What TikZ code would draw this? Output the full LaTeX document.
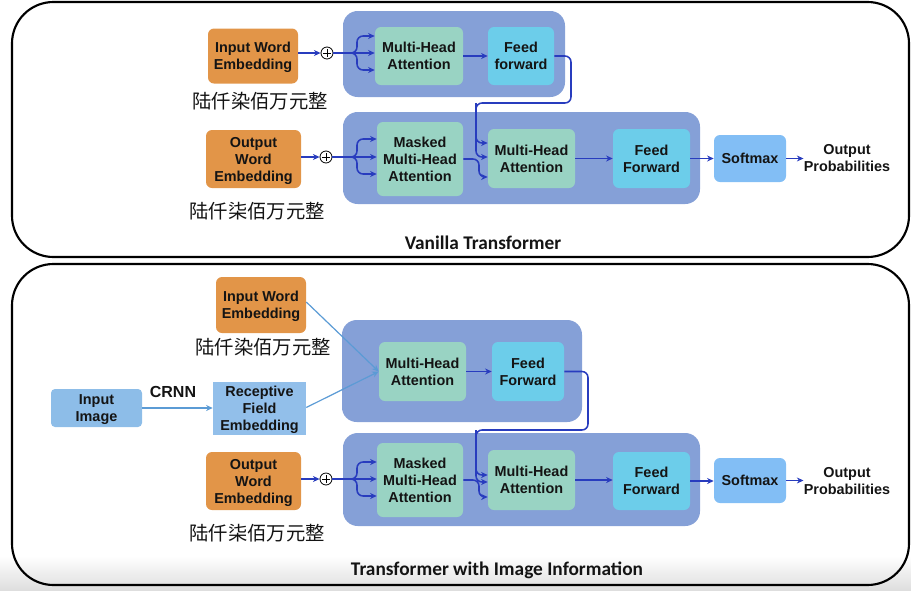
\documentclass[tikz,border=0pt]{standalone}
\usepackage{fontspec}
\setmainfont{Liberation Sans}
\newfontfamily\cjk{Noto Sans CJK SC}
\newfontfamily\titlefam{Carlito}
\usetikzlibrary{arrows.meta,calc,fit,shapes.geometric}

\definecolor{orng}{HTML}{E29548}
\definecolor{grp}{HTML}{85A0D7}
\definecolor{attn}{HTML}{99D3C3}
\definecolor{ffc}{HTML}{6CCDEA}
\definecolor{smx}{HTML}{82BEF5}
\definecolor{imgc}{HTML}{8DBDE8}
\definecolor{rfec}{HTML}{92BFEA}
\definecolor{darr}{HTML}{283CBE}
\definecolor{larr}{HTML}{5B9BD5}
\definecolor{txt}{HTML}{141414}

\newcommand\boxfont{\fontsize{10.8}{12.75}\selectfont\bfseries}
\newcommand\zhfont{\cjk\fontsize{14.5}{16}\selectfont}
\newcommand\headfont{\titlefam\fontsize{14.5}{16}\selectfont\bfseries}

\begin{document}
\begin{tikzpicture}[x=0.75pt,y=-0.75pt,
  blk/.style={rounded corners=4.5pt, inner sep=0pt, align=center, font=\boxfont, text=txt, text depth=0pt},
  sz/.style 2 args={minimum width=#1*0.75pt, minimum height=#2*0.75pt},
  group/.style={fill=grp, rounded corners=11pt, inner sep=0pt},
  frame/.style={draw=black, line width=1.6pt, rounded corners=31pt},
  plusc/.style={circle, draw=black, fill=white, line width=0.6pt, minimum size=9pt, inner sep=0pt,
    path picture={\draw[line width=0.6pt]
      ([xshift=-2.8pt]path picture bounding box.center) -- ([xshift=2.8pt]path picture bounding box.center)
      ([yshift=-2.8pt]path picture bounding box.center) -- ([yshift=2.8pt]path picture bounding box.center);}},
  arr/.style={draw=darr, line width=1.15pt, rounded corners=4.5pt, -{Stealth[length=5pt,width=4.5pt]}},
  lightarr/.style={draw=larr, line width=0.9pt, -{Stealth[length=5pt,width=4.5pt]}},
  zh/.style={font=\zhfont, text=txt, inner sep=0pt},
  head/.style={font=\headfont, text=txt, inner sep=0pt},
  plain/.style={font=\boxfont, text=txt, align=center, inner sep=0pt}
]
\useasboundingbox (0,0) rectangle (911,590);
\shade[top color=white, bottom color=black!13] (0,556) rectangle (911,590);

% ---------- outer frames ----------
\draw[frame] (12,2) rectangle (909,257);
\draw[frame] (12,264) rectangle (909,585);

% ================= vanilla transformer =================
\node[group, fit={(343,11) (565,97)}] (enc1) {};
\node[group, fit={(343,112) (700,204)}] (dec1) {};

\node[blk, fill=orng, sz={90}{55}] (iwe1) at (253,56) {Input Word\\Embedding};
\node[zh] (zh1) at (260,101) {陆仟染佰万元整};
\node[plusc] (p1) at (327,53) {};
\node[blk, fill=attn, sz={88}{58}] (mha1) at (419,56) {Multi-Head\\Attention};
\node[blk, fill=ffc, sz={66}{58}] (ff1) at (521,56) {Feed\\forward};

\node[blk, fill=orng, sz={95}{58}] (owe1) at (253.5,159) {Output\\Word\\Embedding};
\node[zh] (zh2) at (257,211) {陆仟柒佰万元整};
\node[plusc] (p2) at (326,157) {};
\node[blk, fill=attn, sz={86}{74}] (mmha1) at (420,159) {Masked\\Multi-Head\\Attention};
\node[blk, fill=attn, sz={87}{59}] (dmha1) at (531.5,158.5) {Multi-Head\\Attention};
\node[blk, fill=ffc, sz={77}{59}] (dff1) at (651.5,158.5) {Feed\\Forward};
\node[blk, fill=smx, sz={72}{47}] (sm1) at (750,158.5) {Softmax};
\node[plain] (op1) at (847,158) {Output\\Probabilities};
\node[head] (t1) at (483,243) {Vanilla Transformer};

% encoder input
\draw[arr] (iwe1.east |- p1) -- (p1.west);
\draw[arr] (p1.east) -- (mha1.west |- p1);
\coordinate (j1) at (350,53);
\coordinate (j1u) at (357,36);
\coordinate (j1d) at (357,70);
\draw[arr] (j1) -| (j1u) -- (mha1.west |- j1u);
\draw[arr] (j1) -| (j1d) -- (mha1.west |- j1d);
\draw[arr] (mha1.east) -- (ff1.west);

% encoder output into decoder
\coordinate (c1a) at (571,103);
\coordinate (c1b) at (476,103);
\coordinate (k1) at (476,143);
\coordinate (v1) at (476,157);
\draw[arr] (ff1.east) -| (c1a) -- (c1b) |- (dmha1.west |- k1);
\draw[arr] (c1b) |- (dmha1.west |- v1);

% decoder input
\draw[arr] (owe1.east |- p2) -- (p2.west);
\draw[arr] (p2.east) -- (mmha1.west |- p2);
\coordinate (j2) at (350,157);
\coordinate (j2u) at (357,139);
\coordinate (j2d) at (357,174);
\draw[arr] (j2) -| (j2u) -- (mmha1.west |- j2u);
\draw[arr] (j2) -| (j2d) -- (mmha1.west |- j2d);
\coordinate (q1) at (479,177);
\draw[arr] (mmha1.east) -| (q1) -- (dmha1.west |- q1);
\draw[arr] (dmha1.east) -- (dff1.west |- dmha1.east);
\draw[arr] (dff1.east) -- (sm1.west |- dff1.east);
\draw[arr] (sm1.east) -- (op1.west |- sm1.east);

% ================= transformer with image information =================
\node[group, fit={(342,320) (582,422)}] (enc2) {};
\node[group, fit={(343,433) (700,526)}] (dec2) {};

\node[blk, fill=orng, sz={90}{56}] (iwe2) at (261,305) {Input Word\\Embedding};
\node[zh] (zh3) at (263,347) {陆仟染佰万元整};
\node[blk, fill=imgc, rounded corners=3pt, sz={91}{38}] (img) at (96.5,408) {Input\\Image};
\node[font=\fontsize{12}{14}\selectfont\bfseries, text=txt, inner sep=0pt] (crnn) at (173,392) {CRNN};
\node[blk, fill=rfec, rounded corners=0pt, sz={93}{53}] (rfe) at (259.5,408.5) {Receptive\\Field\\Embedding};
\node[blk, fill=attn, sz={87}{59}] (mha2) at (422.5,371.5) {Multi-Head\\Attention};
\node[blk, fill=ffc, sz={72}{59}] (ff2) at (528,371.5) {Feed\\Forward};

\node[blk, fill=orng, sz={95}{58}] (owe2) at (253.5,481) {Output\\Word\\Embedding};
\node[zh] (zh4) at (257,533) {陆仟柒佰万元整};
\node[plusc] (p3) at (326,479) {};
\node[blk, fill=attn, sz={86}{74}] (mmha2) at (420,480) {Masked\\Multi-Head\\Attention};
\node[blk, fill=attn, sz={87}{60}] (dmha2) at (531.5,480) {Multi-Head\\Attention};
\node[blk, fill=ffc, sz={77}{58}] (dff2) at (651.5,481) {Feed\\Forward};
\node[blk, fill=smx, sz={72}{45}] (sm2) at (750,480.5) {Softmax};
\node[plain] (op2) at (847,481) {Output\\Probabilities};
\node[head] (t2) at (497,570) {Transformer with\ Image Information};

% image branch
\draw[lightarr] (img.east |- 0,408) -- (rfe.west |- 0,408);
\draw[lightarr] ($(iwe2.east)+(0,-3)$) -- (mha2.west);
\draw[lightarr] ($(rfe.east)+(0,-1)$) -- (mha2.west);
\draw[arr] (mha2.east) -- (ff2.west);

% encoder output into decoder
\coordinate (c2a) at (588,430);
\coordinate (c2b) at (476,430);
\coordinate (k2) at (476,475);
\coordinate (v2) at (476,482);
\draw[arr] (ff2.east) -| (c2a) -- (c2b) |- (dmha2.west |- k2);
\draw[arr] (c2b) |- (dmha2.west |- v2);

% decoder input
\draw[arr] (owe2.east |- p3) -- (p3.west);
\draw[arr] (p3.east) -- (mmha2.west |- p3);
\coordinate (j3) at (350,479);
\coordinate (j3u) at (357,462);
\coordinate (j3d) at (357,496);
\draw[arr] (j3) -| (j3u) -- (mmha2.west |- j3u);
\draw[arr] (j3) -| (j3d) -- (mmha2.west |- j3d);
\coordinate (q2) at (479,497);
\draw[arr] (mmha2.east) -| (q2) -- (dmha2.west |- q2);
\draw[arr] (dmha2.east) -- (dff2.west |- dmha2.east);
\draw[arr] (dff2.east) -- (sm2.west |- dff2.east);
\draw[arr] (sm2.east) -- (op2.west |- sm2.east);
\end{tikzpicture}
\end{document}
